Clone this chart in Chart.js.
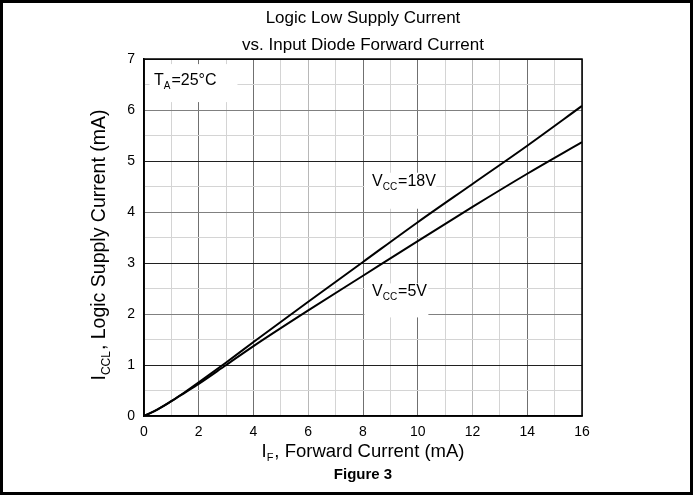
<!DOCTYPE html>
<html>
<head>
<meta charset="utf-8">
<script src="https://cdn.jsdelivr.net/npm/chart.js@4"></script>
<style>
  html, body { margin: 0; padding: 0; background: #fff; }
  #wrap { width: 693px; height: 495px; }
</style>
</head>
<body>
<div id="wrap"><canvas id="myChart" width="693" height="495"></canvas></div>
<script>
// forward current IF (mA)
const ifValues = [0, 0.5, 1, 1.5, 2, 3, 4, 6, 8, 10, 12, 14, 16];
// ICCL (mA) for each supply voltage
const vcc18 = [0, 0.13, 0.29, 0.47, 0.66, 1.05, 1.45, 2.24, 3.02, 3.8, 4.55, 5.3, 6.08];
const vcc5 = [0, 0.13, 0.29, 0.46, 0.63, 1.0, 1.37, 2.07, 2.75, 3.43, 4.1, 4.75, 5.37];
const xTicks = [0, 2, 4, 6, 8, 10, 12, 14, 16];
const yTicks = [0, 1, 2, 3, 4, 5, 6, 7];

const FONT = "'Liberation Sans', Arial, sans-serif";

function toPoints(ys) {
  return ifValues.map((x, i) => ({ x: x, y: ys[i] }));
}

// text with a subscript part: main, sub, rest
function subText(c, x, y, main, sub, rest, size) {
  c.font = size + 'px ' + FONT;
  c.fillText(main, x, y);
  let w = c.measureText(main).width;
  c.font = Math.round(size * 0.62) + 'px ' + FONT;
  c.fillText(sub, x + w, y + size * 0.32);
  w += c.measureText(sub).width + 1;
  c.font = size + 'px ' + FONT;
  c.fillText(rest, x + w, y);
}
function subWidth(c, main, sub, rest, size) {
  c.font = size + 'px ' + FONT;
  let w = c.measureText(main).width + c.measureText(rest).width + 1;
  c.font = Math.round(size * 0.62) + 'px ' + FONT;
  return w + c.measureText(sub).width;
}

const decor = {
  id: 'decor',
  beforeDatasetsDraw(chart) {
    const c = chart.ctx, x = chart.scales.x, y = chart.scales.y;
    c.save();
    c.fillStyle = '#fff';
    // white boxes behind the labels
    c.fillRect(x.getPixelForValue(0.2), y.getPixelForValue(6.9), 88, 38);
    c.fillRect(x.getPixelForValue(8.05), y.getPixelForValue(4.77), 72, 36);
    c.fillRect(x.getPixelForValue(8.05), y.getPixelForValue(2.6), 64, 34);
    c.restore();
  },
  afterDraw(chart) {
    const c = chart.ctx, a = chart.chartArea;
    c.save();
    c.strokeStyle = '#000';
    c.lineWidth = 1.5;
    c.strokeRect(a.left, a.top, a.right - a.left, a.bottom - a.top);
    c.lineWidth = 3;
    c.strokeRect(1.5, 1.5, 690, 492);

    c.fillStyle = '#000';
    c.textBaseline = 'middle';
    const cx = (a.left + a.right) / 2;

    // title
    c.font = '17px ' + FONT;
    c.textAlign = 'center';
    c.fillText('Logic Low Supply Current', cx, 18);
    c.fillText('vs. Input Diode Forward Current', cx, 45);
    c.font = 'bold 15px ' + FONT;
    c.fillText('Figure 3', cx, 475);
    c.textAlign = 'left';

    // x title
    let w = subWidth(c, 'I', 'F', ', Forward Current (mA)', 18.5);
    subText(c, cx - w / 2, 452, 'I', 'F', ', Forward Current (mA)', 18.5);

    // y title
    c.save();
    c.translate(100, 245);
    c.rotate(-Math.PI / 2);
    w = subWidth(c, 'I', 'CCL', ', Logic Supply Current (mA)', 19.5);
    subText(c, -w / 2, 0, 'I', 'CCL', ', Logic Supply Current (mA)', 19.5);
    c.restore();

    // annotations
    subText(c, 154, 81, 'T', 'A', '=25°C', 16);
    subText(c, 372, 182, 'V', 'CC', '=18V', 16);
    subText(c, 372, 292, 'V', 'CC', '=5V', 16);
    c.restore();
  }
};

new Chart(document.getElementById('myChart'), {
  type: 'line',
  data: {
    datasets: [{
      label: 'VCC=18V',
      data: toPoints(vcc18),
      borderColor: '#000',
      borderWidth: 2,
      pointRadius: 0,
      cubicInterpolationMode: 'monotone',
      fill: false
    }, {
      label: 'VCC=5V',
      data: toPoints(vcc5),
      borderColor: '#000',
      borderWidth: 2,
      pointRadius: 0,
      cubicInterpolationMode: 'monotone',
      fill: false
    }]
  },
  options: {
    responsive: false,
    animation: false,
    layout: { padding: { left: 114, right: 111, top: 59, bottom: 49 } },
    plugins: { legend: { display: false }, tooltip: { enabled: false } },
    scales: {
      x: {
        type: 'linear',
        min: 0, max: 16,
        afterFit(s) { s.height = 30; },
        afterBuildTicks(s) {
          const t = [];
          for (let v = 0; v <= 16; v++) t.push({ value: v });
          s.ticks = t;
        },
        ticks: {
          autoSkip: false,
          maxRotation: 0,
          color: '#000',
          font: { family: FONT, size: 14 },
          padding: 8,
          callback: v => xTicks.includes(v) ? String(v) : ''
        },
        grid: {
          drawTicks: false,
          lineWidth: 1,
          color: ctx => {
            const v = ctx.tick.value;
            if (v % 2 === 1) return '#d4d4d4';
            if (v === 6 || v === 12) return '#b8b8b8';
            return '#707070';
          }
        },
        border: { color: '#000', width: 1.5 }
      },
      y: {
        min: 0, max: 7,
        afterFit(s) { s.width = 30; },
        afterBuildTicks(s) {
          const t = [];
          for (let v = 0; v <= 14; v++) t.push({ value: v / 2 });
          s.ticks = t;
        },
        ticks: {
          autoSkip: false,
          color: '#000',
          font: { family: FONT, size: 14 },
          padding: 9,
          callback: v => yTicks.includes(v) ? String(v) : ''
        },
        grid: {
          drawTicks: false,
          lineWidth: 1,
          color: ctx => {
            const v = ctx.tick.value;
            if (!Number.isInteger(v)) return '#d4d4d4';
            if (v % 2 === 1) return '#202020';
            return '#808080';
          }
        },
        border: { color: '#000', width: 1.5 }
      }
    }
  },
  plugins: [decor]
});
</script>
</body>
</html>
